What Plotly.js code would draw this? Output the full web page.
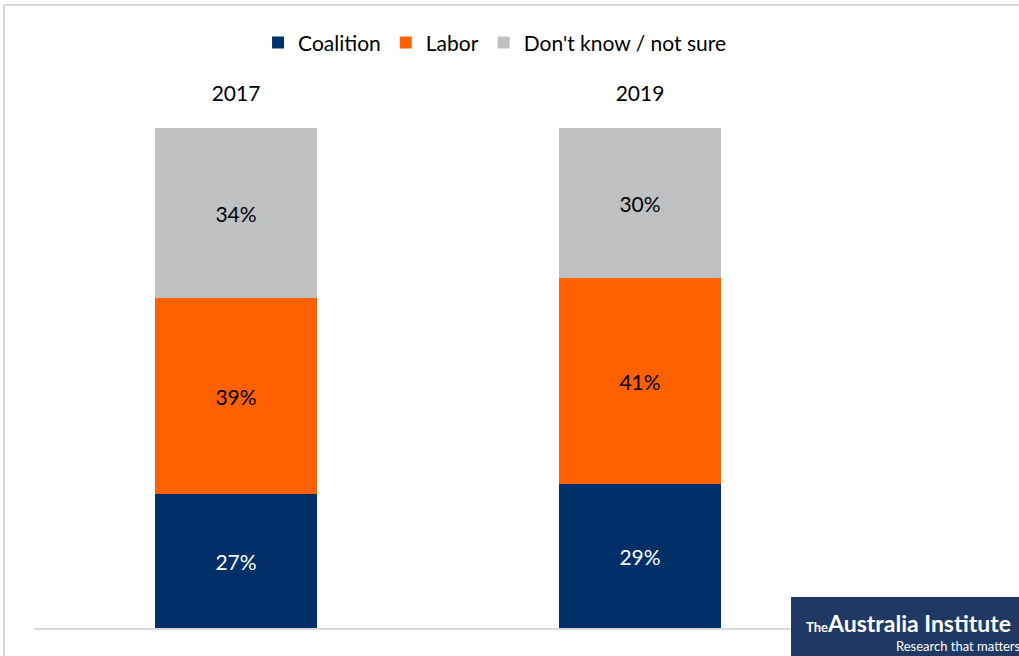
<!DOCTYPE html>
<html>
<head>
<meta charset="utf-8">
<script src="https://cdn.plot.ly/plotly-3.0.1.min.js"></script>
<style>
html,body{margin:0;padding:0;background:#fff;}
#chart{width:1019px;height:656px;}
</style>
</head>
<body>
<div id="chart"></div>
<script>
const years = ["2017", "2019"];
const coalition = [27, 29];
const labor = [39, 41];
const dontKnow = [34, 30];
const seriesNames = ["Coalition", "Labor", "Don't know / not sure"];

const pct = v => v.map(x => x + "%");
const fontFam = "Lato, 'Open Sans', sans-serif";

const traces = [
  {name: seriesNames[0], x: years, y: coalition, type: "bar", marker: {color: "#003067"},
   text: pct(coalition), textposition: "inside", insidetextanchor: "middle",
   textfont: {color: "#ffffff", size: 21, family: fontFam}, hoverinfo: "none"},
  {name: seriesNames[1], x: years, y: labor, type: "bar", marker: {color: "#ff6000"},
   text: pct(labor), textposition: "inside", insidetextanchor: "middle",
   textfont: {color: "#000000", size: 21, family: fontFam}, hoverinfo: "none"},
  {name: seriesNames[2], x: years, y: dontKnow, type: "bar", marker: {color: "#bfc0c2"},
   text: pct(dontKnow), textposition: "inside", insidetextanchor: "middle",
   textfont: {color: "#000000", size: 21, family: fontFam}, hoverinfo: "none"}
];

const layout = {
  width: 1019, height: 656,
  barmode: "stack",
  bargap: 0.6,
  margin: {l: 34, r: 177, t: 128, b: 27},
  paper_bgcolor: "#ffffff",
  plot_bgcolor: "#ffffff",
  font: {family: fontFam, size: 20, color: "#000"},
  showlegend: true,
  legend: {orientation: "h", x: 0.57, xanchor: "center", y: 1.17, yanchor: "middle",
           font: {size: 21, family: fontFam}, traceorder: "normal", itemwidth: 30},
  xaxis: {type: "category", side: "top", showline: false, showgrid: false, zeroline: false,
          ticks: "outside", ticklen: 18, tickcolor: "rgba(0,0,0,0)",
          tickfont: {size: 21, family: fontFam, color: "#000"}, fixedrange: true},
  yaxis: {range: [0, 100], visible: false, fixedrange: true},
  shapes: [
    {type: "line", xref: "paper", yref: "paper", x0: 0, x1: 1, y0: 0, y1: 0,
     line: {color: "#d9d9d9", width: 2}, layer: "above"},
    {type: "line", xref: "paper", yref: "paper", x0: -0.0371, x1: 1.3, y0: 1.2455, y1: 1.2455,
     line: {color: "#d9d9d9", width: 2}},
    {type: "line", xref: "paper", yref: "paper", x0: -0.0371, x1: -0.0371, y0: -0.1, y1: 1.2455,
     line: {color: "#d9d9d9", width: 2}},
    {type: "rect", xref: "paper", yref: "paper", x0: 0.9369, x1: 1.25, y0: -0.06, y1: 0.0639,
     fillcolor: "#203864", line: {width: 0}, layer: "above"}
  ],
  annotations: [
    {xref: "paper", yref: "paper", x: 0.9525, y: 0.012, xanchor: "left", yanchor: "middle",
     text: "<span style='font-size:13px'>The</span>Australia Institute", showarrow: false,
     font: {family: "Lato, sans-serif", size: 23, color: "#ffffff", weight: "bold"}},
    {xref: "paper", yref: "paper", x: 1.2245, y: -0.034, xanchor: "right", yanchor: "middle",
     text: "Research that matters", showarrow: false,
     font: {family: "Lato, sans-serif", size: 13, color: "#ffffff"}}
  ]
};

Plotly.newPlot("chart", traces, layout, {displayModeBar: false, staticPlot: true});
</script>
</body>
</html>
